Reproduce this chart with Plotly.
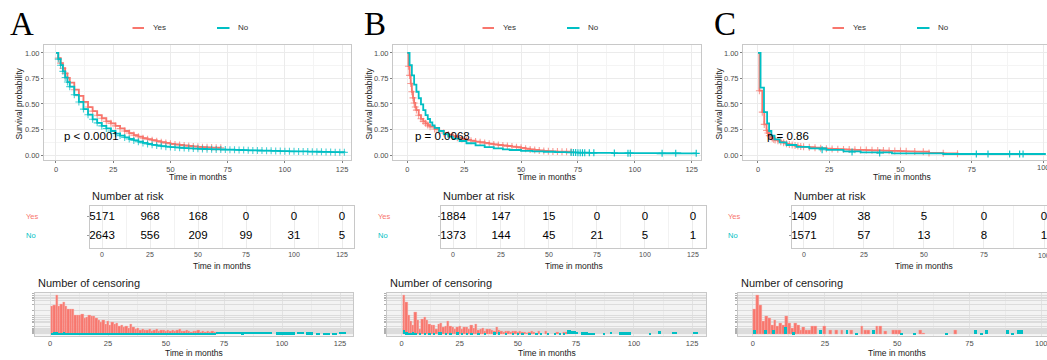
import plotly.graph_objects as go

W, H = 1047, 360
RED, TEAL = "#F8766D", "#00BFC4"
SANS = "Liberation Sans, Arial, sans-serif"

# ---------------- data: Kaplan-Meier curves ----------------
a_yes_t = [0, 1, 2, 3, 4, 5, 6, 8, 10, 12, 14, 16, 18, 20, 22, 24, 26, 28, 30, 32, 34, 36, 38, 40,
           42, 44, 46, 48, 50, 52, 54, 56, 58, 60, 62, 64, 66, 68, 70, 72]
a_yes_s = [1.0, 0.95, 0.90, 0.85, 0.80, 0.755, 0.71, 0.64, 0.58, 0.52, 0.47, 0.43, 0.39, 0.36, 0.33, 0.31,
           0.285, 0.26, 0.235, 0.215, 0.195, 0.18, 0.165, 0.155, 0.145, 0.135, 0.125, 0.118, 0.11, 0.104,
           0.098, 0.093, 0.088, 0.084, 0.08, 0.077, 0.075, 0.073, 0.072, 0.07]
a_no_t = [0, 1, 2, 3, 4, 5, 6, 8, 10, 12, 14, 16, 18, 20, 22, 24, 26, 28, 30, 32, 34, 36, 38, 40,
          42, 44, 46, 48, 50, 52, 54, 56, 58, 60, 62, 64, 66, 68, 70, 72, 74, 76, 78, 80, 82, 84, 86,
          88, 90, 92, 94, 96, 98, 100, 102, 104, 106, 108, 110, 112, 114, 116, 118, 120, 122, 124, 126]
a_no_s = [1.0, 0.94, 0.88, 0.82, 0.76, 0.715, 0.67, 0.59, 0.52, 0.45, 0.395, 0.35, 0.315, 0.285, 0.26,
          0.235, 0.21, 0.19, 0.172, 0.157, 0.143, 0.13, 0.118, 0.108, 0.10, 0.093, 0.087, 0.082, 0.078,
          0.074, 0.071, 0.068, 0.065, 0.063, 0.061, 0.059, 0.057, 0.056, 0.055, 0.054, 0.053, 0.052,
          0.051, 0.049, 0.048, 0.046, 0.045, 0.044, 0.043, 0.042, 0.041, 0.040, 0.038, 0.037, 0.036,
          0.036, 0.035, 0.035, 0.034, 0.033, 0.032, 0.031, 0.030, 0.029, 0.028, 0.027, 0.026]

b_yes_t = [0, 0.5, 1, 1.5, 2, 2.5, 3, 3.5, 4, 5, 6, 7, 8, 9, 10, 12, 14, 16, 18, 20, 22, 24, 26, 28,
           30, 32, 34, 36, 38, 40, 42, 44, 46, 48, 50, 52, 54, 56, 58, 60, 62, 64, 66, 68, 70, 72]
b_yes_s = [1.0, 0.87, 0.78, 0.70, 0.62, 0.56, 0.51, 0.47, 0.44, 0.39, 0.355, 0.33, 0.31, 0.293, 0.278,
           0.255, 0.235, 0.215, 0.2, 0.185, 0.17, 0.158, 0.148, 0.14, 0.132, 0.125, 0.118, 0.111, 0.104,
           0.098, 0.093, 0.088, 0.083, 0.077, 0.07, 0.062, 0.055, 0.05, 0.044, 0.04, 0.037, 0.035,
           0.034, 0.033, 0.033, 0.033]
b_no_t = [0, 1, 2, 3, 4, 5, 6, 7, 8, 9, 10, 11, 12, 14, 16, 18, 20, 23, 26, 30, 34, 38, 42, 45, 50,
          55, 60, 65, 70, 75, 80, 90, 100, 110, 120, 127]
b_no_s = [1.0, 0.88, 0.78, 0.69, 0.62, 0.556, 0.497, 0.44, 0.39, 0.353, 0.32, 0.29, 0.265, 0.235,
          0.205, 0.18, 0.16, 0.137, 0.115, 0.094, 0.078, 0.065, 0.055, 0.049, 0.041, 0.036, 0.032,
          0.028, 0.025, 0.023, 0.021, 0.019, 0.018, 0.017, 0.016, 0.016]
b_no_cens_t = [72, 73, 74, 75, 76, 77, 78, 80, 82, 91, 97, 98, 112, 118, 127]
b_no_cens_s = [0.024, 0.024, 0.024, 0.023, 0.023, 0.023, 0.022, 0.021, 0.021, 0.019, 0.018, 0.018,
               0.017, 0.016, 0.016]

c_yes_t = [0, 0.5, 1.5, 2.2, 3, 3.5, 4, 4.5, 5, 5.5, 6, 7, 8, 9, 10, 11, 12, 13, 14, 15, 16, 18, 20,
           22, 24, 26, 28, 30, 32, 34, 36, 38, 40, 42, 44, 46, 48, 50, 52, 55, 58, 60, 65, 70]
c_yes_s = [1.0, 0.63, 0.42, 0.30, 0.24, 0.215, 0.19, 0.178, 0.165, 0.155, 0.148, 0.14, 0.13, 0.12,
           0.11, 0.103, 0.097, 0.092, 0.087, 0.083, 0.08, 0.076, 0.071, 0.067, 0.062, 0.059, 0.057,
           0.055, 0.053, 0.051, 0.05, 0.048, 0.046, 0.045, 0.043, 0.041, 0.04, 0.038, 0.036, 0.034,
           0.033, 0.02, 0.016, 0.013]
c_no_t = [0, 0.9, 2.1, 3.2, 3.9, 4.7, 5.8, 7.6, 10, 13.5, 18, 24, 30, 36, 47, 65, 101]
c_no_s = [1.0, 0.66, 0.42, 0.31, 0.235, 0.19, 0.154, 0.124, 0.098, 0.08, 0.065, 0.05, 0.035, 0.026,
          0.016, 0.01, 0.01]
c_no_cens_t = [22.5, 33, 42.7, 76.6, 80.7, 88.3, 91.8, 93]
c_no_cens_s = [0.052, 0.03, 0.02, 0.01, 0.01, 0.01, 0.01, 0.01]

p_values = ["p < 0.0001", "p = 0.0068", "p = 0.86"]

# ---------------- data: number at risk ----------------
risk_times_ab = [0, 25, 50, 75, 100, 125]
risk_times_c = [0, 25, 50, 75, 100]
a_risk_yes = [5171, 968, 168, 0, 0, 0]
a_risk_no = [2643, 556, 209, 99, 31, 5]
b_risk_yes = [1884, 147, 15, 0, 0, 0]
b_risk_no = [1373, 144, 45, 21, 5, 1]
c_risk_yes = [1409, 38, 5, 0, 0]
c_risk_no = [1571, 57, 13, 8, 1]
group_labels = ["Yes", "No"]

# ---------------- data: number of censoring (bar heights, relative) ----------------
a_cens_yes_t = [1, 2, 3, 4, 5, 6, 7, 8, 9, 10, 11, 12, 13, 14, 15, 16, 17, 18, 19, 20, 21, 22, 23, 24,
                25, 26, 27, 28, 29, 30, 31, 32, 33, 34, 35, 36, 37, 38, 39, 40, 41, 42, 43, 44, 45, 46,
                47, 48, 49, 50, 51, 52, 53, 54, 55, 56, 57, 58, 59, 60, 61, 62, 63, 64, 65, 66, 67, 68,
                69, 70, 71, 72]
a_cens_yes_n = [83, 86, 118, 85, 89, 96, 83, 76, 76, 76, 58, 58, 56, 61, 48, 51, 57, 55, 54, 47,
                41, 37, 43, 30, 38, 27, 36, 29, 33, 23, 28, 21, 23, 18, 30, 21, 16, 18, 13, 16,
                12, 13, 15, 9, 12, 14, 8, 13, 11, 9, 12, 9, 11, 8, 12, 14, 10, 8, 11, 9,
                7, 9, 8, 11, 7, 10, 7, 8, 6, 8, 7, 6]
a_cens_no_t = [1, 2, 3, 4, 5, 6, 7, 8, 9, 10, 11, 12, 13, 14, 15, 16, 17, 18, 19, 20, 21, 22, 23, 24,
               25, 26, 27, 28, 29, 30, 31, 32, 33, 34, 35, 36, 37, 38, 39, 40, 41, 42, 43, 44, 45, 46,
               47, 48, 49, 50, 51, 52, 53, 54, 55, 56, 57, 58, 59, 60, 61, 62, 63, 64, 65, 66, 67, 68,
               69, 70, 71, 72, 73, 74, 75, 76, 77, 78, 79, 80, 81, 82, 83, 84, 85, 86, 87, 88, 89, 90,
               91, 92, 93, 94, 95, 98, 99, 100, 101, 102, 103, 104, 105, 107, 108, 109, 111, 112, 113,
               115, 116, 118, 119, 120, 122, 123, 125, 126, 127]
a_cens_no_n = [4, 5, 5, 4, 4, 5, 4, 4, 3, 4, 3, 4, 3, 3, 4, 4, 3, 3, 3, 3, 3, 3, 4, 3, 3, 3, 3, 3,
               3, 3, 3, 3, 3, 3, 3, 3, 3, 3, 3, 3, 3, 3, 3, 3, 3, 3, 3, 3, 3, 3, 3, 3, 3, 3, 3, 3,
               3, 3, 3, 3, 3, 3, 3, 3, 3, 3, 3, 3, 3, 3, 4, 6, 7, 6, 6, 6, 6, 6, 6, 6, 6, 6, 5, 6,
               6, 6, 6, 6, 6, 6, 6, 6, 6, 6, 6, 5, 5, 5, 5, 5, 5, 5, 5, 6, 6, 6, 5, 5, 5, 4, 4, 3,
               3, 3, 4, 4, 6, 6, 6]

b_cens_yes_t = [1, 2, 3, 4, 5, 6, 7, 8, 9, 10, 11, 12, 13, 14, 15, 16, 17, 18, 19, 20, 21, 22, 23, 24,
                25, 26, 27, 28, 29, 30, 31, 32, 33, 34, 35, 36, 37, 38, 39, 40, 41, 42, 43, 44, 45, 46,
                47, 48, 49, 50, 51, 52, 53, 54, 55, 56, 57, 59, 62, 67, 70, 71]
b_cens_yes_n = [118, 95, 56, 40, 26, 66, 43, 16, 45, 50, 41, 30, 28, 28, 15, 30, 33, 21, 23, 40,
                23, 21, 15, 21, 23, 15, 20, 20, 16, 28, 18, 29, 13, 16, 18, 8, 15, 16, 11, 10,
                20, 11, 10, 6, 10, 10, 7, 10, 8, 7, 8, 6, 5, 3, 6, 8, 5, 8, 8, 5, 5, 5]
b_cens_no_t = [1, 2, 3, 4, 5, 6, 8, 10, 12, 14, 16, 17, 19, 21, 24, 26, 28, 30, 33, 36, 40, 42, 45,
               48, 50, 52, 55, 58, 60, 63, 66, 68, 70, 71.5, 72.5, 73.5, 74.5, 75.5, 77.5, 78.5, 79.5,
               80.5, 81.5, 82.5, 87, 90, 94, 95, 96, 97, 98, 107, 111, 117, 118, 126, 127]
b_cens_no_n = [13, 5, 4, 3, 5, 3, 4, 3, 4, 3, 5, 5, 3, 4, 5, 4, 3, 3, 3, 4, 5, 5, 3, 3, 3, 4, 3, 3,
               3, 3, 3, 3, 3, 13, 13, 8, 8, 6, 5, 5, 5, 4, 4, 4, 3, 6, 5, 5, 5, 5, 5, 3, 10, 6, 6, 6, 6]

c_cens_yes_t = [0.7, 1.7, 2.7, 3.7, 4.7, 5.7, 6.7, 7.7, 8.7, 9.7, 10.7, 11.7, 12.7, 13.7, 14.7, 15.7,
                16.7, 17.7, 18.7, 19.7, 20.8, 21.8, 24.8, 26.8, 29, 30.9, 34.3, 37.8, 39, 40, 43, 44.3,
                45.9, 48.7, 49.7, 50.8, 58, 59, 70]
c_cens_yes_n = [75, 118, 88, 38, 55, 48, 28, 41, 23, 33, 28, 55, 33, 18, 33, 28, 11, 20, 13, 11, 23,
                23, 23, 11, 11, 11, 11, 23, 11, 11, 23, 23, 8, 11, 11, 11, 11, 3, 11]
c_cens_no_t = [0.7, 4.4, 7.3, 11.2, 14, 23.4, 32.6, 36, 41.8, 51.6, 56, 67, 77, 79, 81, 88, 90, 92, 93]
c_cens_no_n = [11, 11, 11, 20, 5, 11, 11, 4, 11, 3, 3, 3, 11, 3, 11, 11, 3, 11, 11]

# ---------------- layout geometry (pixels) ----------------
panels = [
    dict(letter="A", letter_x=8, ox=0, km_box=(44, 351), km_rng=(-5.24, 128.9),
         risk_box=(90, 354), risk_rng=(-6.25, 131.25), cens_box=(35, 353), cens_rng=(-6.47, 130.6),
         ticks=[0, 25, 50, 75, 100, 125], row_x=24,
         yes=(a_yes_t, a_yes_s), no=(a_no_t, a_no_s), no_cens=None,
         risk=(risk_times_ab, a_risk_yes, a_risk_no),
         cens_yes=(a_cens_yes_t, a_cens_yes_n), cens_no=(a_cens_no_t, a_cens_no_n), p=p_values[0]),
    dict(letter="B", letter_x=361.5, ox=350, km_box=(393, 701), km_rng=(-6.29, 129.1),
         risk_box=(441, 706), risk_rng=(-6.25, 131.8), cens_box=(387, 706), cens_rng=(-6.33, 131.0),
         ticks=[0, 25, 50, 75, 100, 125], row_x=376,
         yes=(b_yes_t, b_yes_s), no=(b_no_t, b_no_s), no_cens=(b_no_cens_t, b_no_cens_s),
         risk=(risk_times_ab, b_risk_yes, b_risk_no),
         cens_yes=(b_cens_yes_t, b_cens_yes_n), cens_no=(b_cens_no_t, b_cens_no_n), p=p_values[1]),
    dict(letter="C", letter_x=711.5, ox=700, km_box=(743, 1047), km_rng=(-5.26, 101.4),
         risk_box=(791.7, 1047), risk_rng=(-5.1, 101.25), cens_box=(738, 1047), cens_rng=(-5.09, 101.8),
         ticks=[0, 25, 50, 75, 100], row_x=726,
         yes=(c_yes_t, c_yes_s), no=(c_no_t, c_no_s), no_cens=(c_no_cens_t, c_no_cens_s),
         risk=(risk_times_c, c_risk_yes, c_risk_no),
         cens_yes=(c_cens_yes_t, c_cens_yes_n), cens_no=(c_cens_no_t, c_cens_no_n), p=p_values[2]),
]

KM_Y = (45, 160)
RISK_Y = (205.7, 248)
CENS_Y = (293.3, 335.7)


def dx(l, r):
    return [max(l / W, 0), min(r / W, 1)]


def dy(t, b):
    return [1 - b / H, 1 - t / H]


def aname(letter, i):
    return f"{letter}axis" if i == 1 else f"{letter}axis{i}"


def ref(letter, i):
    return letter if i == 1 else f"{letter}{i}"


fig = go.Figure()
layout = {}
annotations = []
shapes = []

tickfont = dict(family=SANS, size=7.5, color="#4D4D4D")
BORDER = "#C8C8C8"


def ann(text, x, y, size=9, color="#1A1A1A", xanchor="center", yanchor="middle", angle=0, family=SANS):
    annotations.append(dict(text=text, x=x / W, y=1 - y / H, xref="paper", yref="paper",
                            xanchor=xanchor, yanchor=yanchor, showarrow=False, textangle=angle,
                            font=dict(family=family, size=size, color=color)))


for p_i, P in enumerate(panels):
    ox = P["ox"]
    ik, ir, ic = 3 * p_i + 1, 3 * p_i + 2, 3 * p_i + 3
    minor_ticks = [t + 12.5 for t in P["ticks"]]

    # --- KM axes
    layout[aname("x", ik)] = dict(
        domain=dx(*P["km_box"]), range=list(P["km_rng"]), anchor=ref("y", ik),
        tickvals=P["ticks"], showgrid=True, gridcolor="#EBEBEB", gridwidth=1,
        minor=dict(tickvals=minor_ticks, showgrid=True, gridcolor="#F4F4F4", gridwidth=1),
        showline=True, mirror=True, linecolor=BORDER, linewidth=1, zeroline=False,
        ticks="outside", ticklen=2, tickcolor="#7F7F7F", tickfont=tickfont)
    layout[aname("y", ik)] = dict(
        domain=dy(*KM_Y), range=[-0.049, 1.078], anchor=ref("x", ik),
        tickvals=[0, 0.25, 0.5, 0.75, 1.0], ticktext=["0.00", "0.25", "0.50", "0.75", "1.00"],
        showgrid=True, gridcolor="#EBEBEB", gridwidth=1,
        minor=dict(tickvals=[0.125, 0.375, 0.625, 0.875], showgrid=True, gridcolor="#F4F4F4", gridwidth=1),
        showline=True, mirror=True, linecolor=BORDER, linewidth=1, zeroline=False,
        ticks="outside", ticklen=2, tickcolor="#7F7F7F", tickfont=tickfont)

    # --- risk table axes
    layout[aname("x", ir)] = dict(
        domain=dx(*P["risk_box"]), range=list(P["risk_rng"]), anchor=ref("y", ir),
        tickvals=P["ticks"], showgrid=True, gridcolor="#EBEBEB", gridwidth=1,
        minor=dict(tickvals=minor_ticks, showgrid=True, gridcolor="#F2F2F2", gridwidth=1),
        showline=True, mirror=True, linecolor=BORDER, linewidth=1, zeroline=False,
        ticks="", tickfont=dict(family=SANS, size=7, color="#4D4D4D"))
    layout[aname("y", ir)] = dict(
        domain=dy(*RISK_Y), range=[-0.65, 1.58], anchor=ref("x", ir),
        tickvals=[0, 1], showticklabels=False, showgrid=False,
        showline=True, mirror=True, linecolor=BORDER, linewidth=1, zeroline=False,
        ticks="outside", ticklen=2, tickcolor="#9A9A9A")

    # --- censoring axes
    layout[aname("x", ic)] = dict(
        domain=dx(*P["cens_box"]), range=list(P["cens_rng"]), anchor=ref("y", ic),
        tickvals=P["ticks"], showgrid=True, gridcolor="#E2E2E2", gridwidth=1,
        minor=dict(tickvals=minor_ticks, showgrid=True, gridcolor="#EAEAEA", gridwidth=1),
        showline=True, mirror=True, linecolor=BORDER, linewidth=1, zeroline=False,
        ticks="", tickfont=dict(family=SANS, size=7.5, color="#4D4D4D"))
    layout[aname("y", ic)] = dict(
        domain=dy(*CENS_Y), range=[-4, 123], anchor=ref("x", ic),
        tickvals=[2, 5, 8, 11, 15, 19, 25, 36, 40, 45, 51, 58, 71, 88, 100, 106, 111, 116, 121],
        showticklabels=False, showgrid=True, gridcolor="#DCDCDC", gridwidth=1,
        showline=True, mirror=True, linecolor=BORDER, linewidth=1, zeroline=False,
        ticks="outside", ticklen=2, tickcolor="#B0B0B0")
    shapes.append(dict(type="rect", xref=f"{ref('x', ic)} domain", yref=f"{ref('y', ic)} domain",
                       x0=0, x1=1, y0=0, y1=1, fillcolor="#F3F3F3", line=dict(width=0), layer="below"))

    # --- KM traces
    yt, ys = P["yes"]
    nt, ns = P["no"]
    ysize = [0] + [5] * (len(yt) - 1)
    fig.add_trace(go.Scatter(x=yt, y=ys, mode="lines+markers", line=dict(color=RED, width=1.8, shape="hv"),
                             marker=dict(symbol="cross-thin", size=ysize, line=dict(width=1.1, color=RED)),
                             xaxis=ref("x", ik), yaxis=ref("y", ik), showlegend=False))
    if P["no_cens"] is None:
        nsize = [0] + [5] * (len(nt) - 1)
        fig.add_trace(go.Scatter(x=nt, y=ns, mode="lines+markers", line=dict(color=TEAL, width=1.8, shape="hv"),
                                 marker=dict(symbol="cross-thin", size=nsize, line=dict(width=1.1, color=TEAL)),
                                 xaxis=ref("x", ik), yaxis=ref("y", ik), showlegend=False))
    else:
        fig.add_trace(go.Scatter(x=nt, y=ns, mode="lines", line=dict(color=TEAL, width=1.8, shape="hv"),
                                 xaxis=ref("x", ik), yaxis=ref("y", ik), showlegend=False))
        ct, cs = P["no_cens"]
        fig.add_trace(go.Scatter(x=ct, y=cs, mode="markers",
                                 marker=dict(symbol="cross-thin", size=5, line=dict(width=1.1, color=TEAL)),
                                 xaxis=ref("x", ik), yaxis=ref("y", ik), showlegend=False))
    # p-value text
    annotations.append(dict(text=P["p"], x=2.5, y=0.186, xref=ref("x", ik), yref=ref("y", ik),
                            xanchor="left", yanchor="middle", showarrow=False,
                            font=dict(family=SANS, size=11.5, color="black")))

    # --- risk table text
    rt, ry, rn = P["risk"]
    fig.add_trace(go.Scatter(x=rt, y=[1] * len(rt), mode="text", text=[str(v) for v in ry],
                             textfont=dict(family=SANS, size=11.5, color="black"), cliponaxis=False,
                             xaxis=ref("x", ir), yaxis=ref("y", ir), showlegend=False))
    fig.add_trace(go.Scatter(x=rt, y=[0] * len(rt), mode="text", text=[str(v) for v in rn],
                             textfont=dict(family=SANS, size=11.5, color="black"), cliponaxis=False,
                             xaxis=ref("x", ir), yaxis=ref("y", ir), showlegend=False))

    # --- censoring bars
    cyt, cyn = P["cens_yes"]
    cnt, cnn = P["cens_no"]
    fig.add_trace(go.Bar(x=cyt, y=cyn, width=1.0, marker=dict(color=RED, line=dict(width=0.4, color="#FBB3AD")),
                         xaxis=ref("x", ic), yaxis=ref("y", ic), showlegend=False))
    fig.add_trace(go.Bar(x=cnt, y=cnn, width=1.0, marker=dict(color=TEAL, line=dict(width=0)),
                         xaxis=ref("x", ic), yaxis=ref("y", ic), showlegend=False))

    # --- last tick label of panel C sits at the page edge (plotly drops it): draw it as text
    if p_i == 2:
        last = P["ticks"][-1]
        for axn, ypx, fs in ((ik, 167, 7.5), (ir, 255.7, 7), (ic, 343, 7.5)):
            annotations.append(dict(text=str(last), x=last, y=1 - ypx / H, xref=ref("x", axn), yref="paper",
                                    xanchor="center", yanchor="middle", showarrow=False,
                                    font=dict(family=SANS, size=fs, color="#4D4D4D")))

    # --- text decorations
    ann(P["letter"], P["letter_x"], 24, size=33, color="black", xanchor="left",
        family="Liberation Serif, Times New Roman, serif")
    # legend
    shapes.append(dict(type="line", xref="paper", yref="paper", x0=(ox + 132.5) / W, x1=(ox + 144) / W,
                       y0=1 - 28 / H, y1=1 - 28 / H, line=dict(color=RED, width=2)))
    shapes.append(dict(type="line", xref="paper", yref="paper", x0=(ox + 217) / W, x1=(ox + 229.5) / W,
                       y0=1 - 28 / H, y1=1 - 28 / H, line=dict(color=TEAL, width=2)))
    ann(group_labels[0], ox + 151, 28, size=8, color="#333333", xanchor="left")
    ann(group_labels[1], ox + 236, 28, size=8, color="#333333", xanchor="left")
    # axis titles
    kl, kr = P["km_box"]
    ann("Survival probability", ox + 18.5, 104, size=8.5, angle=-90)
    ann("Time in months", (kl + kr) / 2 if p_i < 2 else 902, 177, size=8.5)
    rl, rr = P["risk_box"]
    ann("Number at risk", rl, 195.7, size=11, xanchor="left")
    ann("Time in months", (rl + rr) / 2 if p_i < 2 else 924, 266, size=8.5)
    ann(group_labels[0], P["row_x"], 216.7, size=7.5, color=RED, xanchor="left")
    ann(group_labels[1], P["row_x"], 235.7, size=7.5, color=TEAL, xanchor="left")
    cl, cr = P["cens_box"]
    ann("Number of censoring", cl + 1, 283, size=11, xanchor="left")
    ann("Time in months", (cl + cr) / 2 if p_i < 2 else 897, 353, size=8.5)

fig.update_layout(
    width=W, height=H, margin=dict(l=0, r=0, t=0, b=0),
    paper_bgcolor="white", plot_bgcolor="white", barmode="overlay", bargap=0,
    showlegend=False, annotations=annotations, shapes=shapes,
    font=dict(family=SANS), **layout)

fig.write_html("out.html", config={"displayModeBar": False},
               post_script="document.body.style.margin='0';document.body.style.padding='0';")
